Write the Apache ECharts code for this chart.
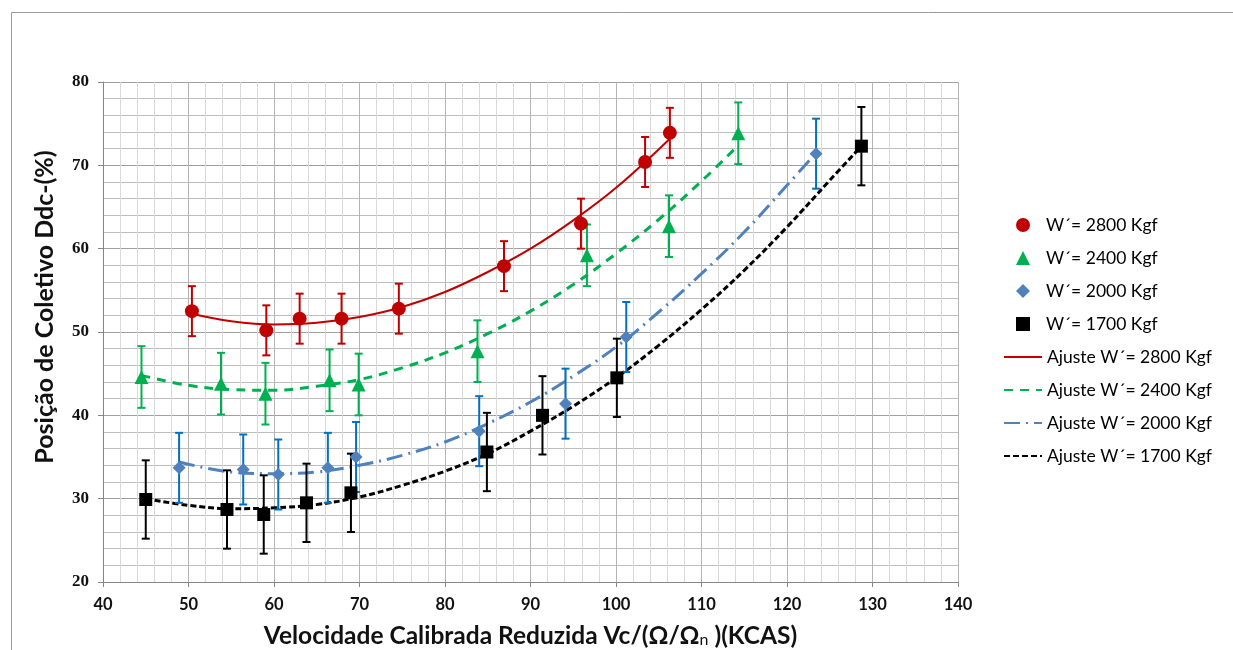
<!DOCTYPE html>
<html>
<head>
<meta charset="utf-8">
<script src="https://cdn.jsdelivr.net/npm/echarts@6/dist/echarts.min.js"></script>
<style>
  html, body { margin: 0; padding: 0; background: #fff; }
  #chart { width: 1233px; height: 650px; }
</style>
</head>
<body>
<div id="chart"></div>
<script>
// medidas (x, y) e barra de erro (+/-)
const pts2800 = [[50.4, 52.5], [59.1, 50.2], [63.0, 51.6], [67.9, 51.6], [74.6, 52.8], [86.9, 57.9], [95.9, 63.0], [103.4, 70.4], [106.3, 73.9]];
const pts2400 = [[44.5, 44.6], [53.8, 43.8], [59.0, 42.6], [66.5, 44.2], [69.9, 43.7], [83.8, 47.7], [96.6, 59.2], [106.2, 62.7], [114.3, 73.85]];
const pts2000 = [[48.9, 33.7], [56.4, 33.5], [60.5, 32.9], [66.3, 33.7], [69.6, 35.0], [84.0, 38.1], [94.1, 41.4], [101.2, 49.4], [123.4, 71.4]];
const pts1700 = [[45.0, 29.9], [54.5, 28.7], [58.8, 28.1], [63.8, 29.5], [69.0, 30.7], [84.9, 35.6], [91.4, 40.0], [100.1, 44.5], [128.7, 72.3]];
const err2800 = 3.0;
const err2400 = 3.7;
const err2000 = 4.2;
const err1700 = 4.7;

// curvas de ajuste
const fit2800 = [[50.4, 52.2], [55, 51.3], [60, 50.9], [65, 51.1], [70, 51.8], [75, 53.0], [80, 54.8], [85, 57.2], [90, 60.0], [95, 63.4], [100, 67.3], [106.3, 73.2]];
const fit2400 = [[44.5, 44.8], [50, 43.6], [55, 43.1], [60, 43.0], [65, 43.5], [70, 44.3], [75, 45.7], [80, 47.5], [85, 49.8], [90, 52.5], [95, 55.7], [100, 59.4], [105, 63.5], [110, 68.1], [114.3, 72.4]];
const fit2000 = [[48.9, 34.4], [55, 33.2], [60, 33.0], [65, 33.2], [70, 34.0], [75, 35.2], [80, 36.8], [85, 39.0], [90, 41.6], [95, 44.7], [100, 48.2], [105, 52.4], [110, 57.0], [115, 62.0], [120, 67.6], [123.4, 71.5]];
const fit1700 = [[45, 30.0], [50, 29.2], [55, 28.8], [60, 28.9], [65, 29.3], [70, 30.2], [75, 31.6], [80, 33.3], [85, 35.4], [90, 38.1], [95, 41.1], [100, 44.5], [105, 48.4], [110, 52.7], [115, 57.4], [120, 62.6], [125, 68.2], [128.7, 72.3]];

const names = ['W´= 2800 Kgf', 'W´= 2400 Kgf', 'W´= 2000 Kgf', 'W´= 1700 Kgf'];
const fitNames = ['Ajuste W´= 2800 Kgf', 'Ajuste W´= 2400 Kgf', 'Ajuste W´= 2000 Kgf', 'Ajuste W´= 1700 Kgf'];

const chart = echarts.init(document.getElementById('chart'));

function errorBars(pts, err, color) {
  return {
    type: 'custom',
    silent: true,
    z: 3,
    data: pts.map(p => [p[0], p[1] - err, p[1] + err]),
    renderItem(params, api) {
      const lo = api.coord([api.value(0), api.value(1)]);
      const hi = api.coord([api.value(0), api.value(2)]);
      const cap = 4;
      const style = { stroke: color, lineWidth: 2 };
      return {
        type: 'group',
        children: [
          { type: 'line', shape: { x1: lo[0], y1: lo[1], x2: hi[0], y2: hi[1] }, style },
          { type: 'line', shape: { x1: lo[0] - cap, y1: lo[1], x2: lo[0] + cap, y2: lo[1] }, style },
          { type: 'line', shape: { x1: hi[0] - cap, y1: hi[1], x2: hi[0] + cap, y2: hi[1] }, style }
        ]
      };
    }
  };
}

const legendText = { fontFamily: 'Lato', fontSize: 17.5, lineHeight: 18, color: '#000' };

const option = {
  animation: false,
  graphic: [{
    type: 'rect',
    shape: { x: 11.5, y: 12.5, width: 1300, height: 700 },
    style: { fill: 'none', stroke: '#9a9a9a', lineWidth: 1 },
    silent: true
  }],
  grid: { left: 103, right: 275, top: 82, bottom: 68, outerBoundsMode: 'none' },
  legend: [{
    orient: 'vertical',
    left: 1011,
    top: 211,
    itemWidth: 14,
    itemHeight: 14,
    itemGap: 15,
    textStyle: Object.assign({ padding: [0, 0, 0, 11] }, legendText),
    data: names
  }, {
    orient: 'vertical',
    left: 998,
    top: 343,
    itemWidth: 38,
    itemHeight: 14,
    itemGap: 15,
    itemStyle: { opacity: 0 },
    textStyle: legendText,
    data: fitNames
  }],
  xAxis: {
    type: 'value',
    min: 40, max: 140, interval: 10,
    name: 'Velocidade Calibrada Reduzida Vc/(Ω/Ω{sub|n} )(KCAS)',
    nameLocation: 'middle',
    nameGap: 42,
    nameTextStyle: {
      fontFamily: 'Lato', fontSize: 24.5, fontWeight: 'bold', color: '#111',
      rich: { sub: { fontFamily: 'Lato', fontSize: 16, fontWeight: 'normal', color: '#111', padding: [7, 0, 0, 0] } }
    },
    axisLine: { show: true, lineStyle: { color: '#868686' } },
    axisTick: { show: true, length: 5, lineStyle: { color: '#868686' } },
    axisLabel: { fontFamily: 'Lato', fontSize: 16.5, fontWeight: 'bold', color: '#111', margin: 14 },
    splitLine: { show: true, lineStyle: { color: '#b4b4b4', width: 1 } },
    minorTick: { show: false, splitNumber: 5 },
    minorSplitLine: { show: true, lineStyle: { color: '#d9d9d9', width: 1 } }
  },
  yAxis: {
    type: 'value',
    min: 20, max: 80, interval: 10,
    name: 'Posição de Coletivo Ddc-(%)',
    nameLocation: 'middle',
    nameGap: 46,
    nameTextStyle: { fontFamily: 'Lato', fontSize: 25, fontWeight: 'bold', color: '#111', padding: [0, 0, 0, 50] },
    axisLine: { show: true, lineStyle: { color: '#868686' } },
    axisTick: { show: true, length: 5, lineStyle: { color: '#868686' } },
    axisLabel: { fontFamily: 'Liberation Serif', fontSize: 17, fontWeight: 'bold', color: '#111', margin: 14 },
    splitLine: { show: true, lineStyle: { color: '#a0a0a0', width: 1 } },
    minorTick: { show: false, splitNumber: 5 },
    minorSplitLine: { show: true, lineStyle: { color: '#bdbdbd', width: 1 } }
  },
  series: [
    { name: fitNames[0], type: 'line', data: fit2800, smooth: 0.4, symbol: 'none', z: 2,
      lineStyle: { color: '#C00000', width: 2, type: 'solid' }, itemStyle: { color: '#C00000' } },
    { name: fitNames[1], type: 'line', data: fit2400, smooth: 0.4, symbol: 'none', z: 2,
      lineStyle: { color: '#00B050', width: 3, type: [9, 7] }, itemStyle: { color: '#00B050' } },
    { name: fitNames[2], type: 'line', data: fit2000, smooth: 0.4, symbol: 'none', z: 2,
      lineStyle: { color: '#4F81BD', width: 3, type: [16, 6, 2, 6] }, itemStyle: { color: '#4F81BD' } },
    { name: fitNames[3], type: 'line', data: fit1700, smooth: 0.4, symbol: 'none', z: 2,
      lineStyle: { color: '#000', width: 3, type: [6, 3] }, itemStyle: { color: '#000' } },
    errorBars(pts2800, err2800, '#C00000'),
    errorBars(pts2400, err2400, '#00B050'),
    errorBars(pts2000, err2000, '#0070C0'),
    errorBars(pts1700, err1700, '#000'),
    { name: names[0], type: 'scatter', data: pts2800, symbol: 'circle', symbolSize: 14, z: 4,
      itemStyle: { color: '#C00000', opacity: 1 } },
    { name: names[1], type: 'scatter', data: pts2400, symbol: 'triangle', symbolSize: 14, z: 4,
      itemStyle: { color: '#00B050', opacity: 1 } },
    { name: names[2], type: 'scatter', data: pts2000, symbol: 'diamond', symbolSize: 13, z: 4,
      itemStyle: { color: '#4F81BD', opacity: 1 } },
    { name: names[3], type: 'scatter', data: pts1700, symbol: 'rect', symbolSize: 13, z: 4,
      itemStyle: { color: '#000', opacity: 1 } }
  ]
};

chart.setOption(option);
</script>
</body>
</html>
